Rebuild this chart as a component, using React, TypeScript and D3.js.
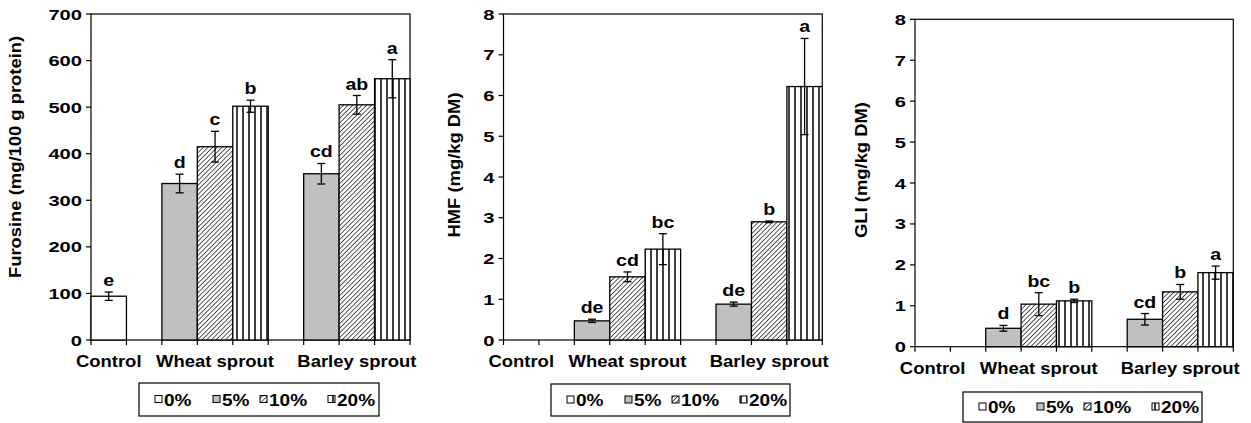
import * as d3 from 'd3';

// 9 slots on the x axis: control, blank, wheat x3, blank, barley x3
const slots = ['C0', 'gap1', 'W5', 'W10', 'W20', 'gap2', 'B5', 'B10', 'B20'];
const slotLevel = ['0%', '', '5%', '10%', '20%', '', '5%', '10%', '20%'];
const categoryLabels = [
  { slot: 'C0', text: 'Control' },
  { slot: 'W10', text: 'Wheat sprout' },
  { slot: 'B10', text: 'Barley sprout' },
];
const levels = ['0%', '5%', '10%', '20%'];

const furosine = [94, 0, 336, 415, 502, 0, 357, 505, 561];
const furosineErr = [9, 0, 20, 33, 13, 0, 22, 20, 41];
const furosineLetters = ['e', '', 'd', 'c', 'b', '', 'cd', 'ab', 'a'];

const hmf = [0, 0, 0.47, 1.55, 2.23, 0, 0.88, 2.9, 6.22];
const hmfErr = [0, 0, 0.04, 0.12, 0.38, 0, 0.05, 0.02, 1.18];
const hmfLetters = ['', '', 'de', 'cd', 'bc', '', 'de', 'b', 'a'];

const gli = [0, 0, 0.45, 1.04, 1.12, 0, 0.67, 1.34, 1.81];
const gliErr = [0, 0, 0.07, 0.28, 0.04, 0, 0.14, 0.18, 0.16];
const gliLetters = ['', '', 'd', 'bc', 'b', '', 'cd', 'b', 'a'];

const FONT = '"Liberation Sans", Arial, sans-serif';

const fills: Record<string, string> = {
  '0%': '#ffffff',
  '5%': '#c0c0c0',
  '10%': 'url(#hatch)',
  '20%': 'url(#vlines)',
};

// text in the picture is a bit wider than Arial, so stretch it sideways
function T({ x, y, size, anchor = 'middle', rotate = 0, sx = 1.12, children }: any) {
  return (
    <text
      transform={`translate(${x},${y}) rotate(${rotate}) scale(${sx},1)`}
      fontSize={size}
      fontWeight="bold"
      fontFamily={FONT}
      textAnchor={anchor}
      fill="#000"
    >
      {children}
    </text>
  );
}

function Panel({ box, ymax, step, values, errs, letters, title, titleX, titleY, legend }: any) {
  const x = d3.scaleBand().domain(slots).range([box.left, box.right]).padding(0);
  const y = d3.scaleLinear().domain([0, ymax]).range([box.bottom, box.top]);
  const ticks = d3.range(0, ymax + step / 2, step);
  const bw = x.bandwidth();
  const edges = slots.map((s) => x(s)!).concat([box.right]);

  return (
    <g>
      <rect x={box.left} y={box.top} width={box.right - box.left} height={box.bottom - box.top}
        fill="none" stroke="#000" strokeWidth={1.2} />
      {/* bars */}
      {slots.map((s, i) => {
        const v = values[i];
        if (!v) return null;
        return (
          <rect key={s} x={x(s)} y={y(v)} width={bw} height={y(0) - y(v)}
            fill={fills[slotLevel[i]]} stroke="#000" strokeWidth={1.3} />
        );
      })}
      {/* error bars */}
      {slots.map((s, i) => {
        const v = values[i];
        if (!v) return null;
        const cx = x(s)! + bw / 2;
        const hi = y(v + errs[i]);
        const lo = y(v - errs[i]);
        return (
          <g key={s} stroke="#000" strokeWidth={1.3}>
            <line x1={cx} x2={cx} y1={hi} y2={lo} />
            <line x1={cx - 4} x2={cx + 4} y1={hi} y2={hi} />
            <line x1={cx - 4} x2={cx + 4} y1={lo} y2={lo} />
          </g>
        );
      })}
      {/* significance letters */}
      {slots.map((s, i) => letters[i] ? (
        <T key={s} x={x(s)! + bw / 2} y={y(values[i] + errs[i]) - 6} size={17} sx={1.15}>{letters[i]}</T>
      ) : null)}
      {/* y axis */}
      {ticks.map((t) => (
        <g key={t}>
          <line x1={box.left - 5} x2={box.left} y1={y(t)} y2={y(t)} stroke="#000" strokeWidth={1.2} />
          <T x={box.left - 9} y={y(t) + 5.5} size={15.5} sx={1.3} anchor="end">{t}</T>
        </g>
      ))}
      {/* x axis ticks at slot edges */}
      {edges.map((e, i) => (
        <line key={i} x1={e} x2={e} y1={box.bottom} y2={box.bottom + 5} stroke="#000" strokeWidth={1.2} />
      ))}
      {categoryLabels.map((c) => (
        <T key={c.text} x={x(c.slot)! + bw / 2} y={box.bottom + 27} size={16.5}>{c.text}</T>
      ))}
      <T x={titleX} y={titleY} size={16} sx={1.15} rotate={-90}>{title}</T>
      {/* legend */}
      <rect x={legend.x} y={legend.y} width={legend.w} height={legend.h} fill="#fff" stroke="#000" strokeWidth={1.2} />
      {levels.map((l, i) => {
        const off = [16, 74, 121, 189][i];
        const cy = legend.y + legend.h / 2;
        return (
          <g key={l}>
            <rect x={legend.x + off} y={cy - 4} width={7} height={7} fill={fills[l]} stroke="#000" strokeWidth={1} />
            <T x={legend.x + off + 9} y={cy + 6} size={17} anchor="start">{l}</T>
          </g>
        );
      })}
    </g>
  );
}

export default function App() {
  return (
    <svg width={1251} height={423} style={{ position: 'absolute', left: 0, top: 0, background: '#fff' }}>
      <defs>
        <pattern id="hatch" patternUnits="userSpaceOnUse" width={3.3} height={3.3} patternTransform="rotate(45)">
          <rect width={3.3} height={3.3} fill="#fff" />
          <line x1={0} y1={0} x2={0} y2={3.3} stroke="#222" strokeWidth={1.5} />
        </pattern>
        <pattern id="vlines" patternUnits="userSpaceOnUse" width={6} height={6}>
          <rect width={6} height={6} fill="#fff" />
          <line x1={3} y1={0} x2={3} y2={6} stroke="#000" strokeWidth={1.5} />
        </pattern>
      </defs>
      <rect width={1251} height={423} fill="#fff" />
      <Panel box={{ left: 91, right: 410, top: 14, bottom: 340 }} ymax={700} step={100}
        values={furosine} errs={furosineErr} letters={furosineLetters}
        title="Furosine  (mg/100 g protein)" titleX={21} titleY={157}
        legend={{ x: 139, y: 383, w: 240, h: 33 }} />
      <Panel box={{ left: 503.5, right: 822.3, top: 14, bottom: 340 }} ymax={8} step={1}
        values={hmf} errs={hmfErr} letters={hmfLetters}
        title="HMF (mg/kg DM)" titleX={460} titleY={165}
        legend={{ x: 551, y: 384, w: 239, h: 32 }} />
      <Panel box={{ left: 915, right: 1233.3, top: 19.3, bottom: 346.7 }} ymax={8} step={1}
        values={gli} errs={gliErr} letters={gliLetters}
        title="GLI (mg/kg DM)" titleX={867} titleY={170}
        legend={{ x: 963, y: 392, w: 239, h: 30 }} />
    </svg>
  );
}
